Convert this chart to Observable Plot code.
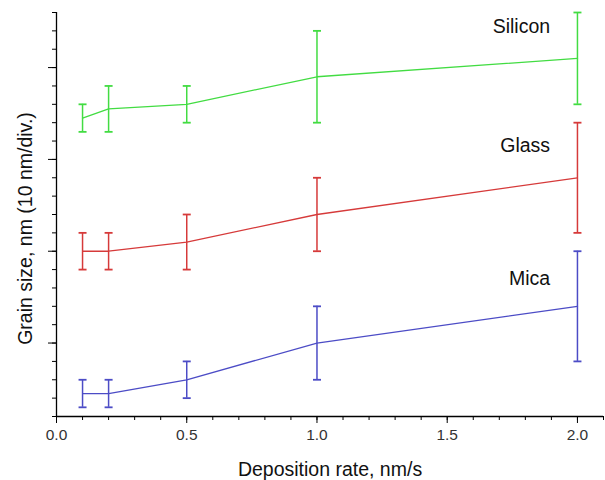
<!DOCTYPE html>
<html>
<head>
<meta charset="utf-8">
<script src="https://cdn.jsdelivr.net/npm/d3@7"></script>
<script src="https://cdn.jsdelivr.net/npm/@observablehq/plot@0.6"></script>
<style>
  html, body { margin: 0; padding: 0; background: #fff; }
  #chart { width: 605px; height: 480px; }
</style>
</head>
<body>
<div id="chart"></div>
<script>
// Data
const rates = [0.1, 0.2, 0.5, 1.0, 2.0];
const silicon = [34.5, 35.5, 36, 39, 41];
const siliconErr = [1.5, 2.5, 2, 5, 5];
const glass = [20, 20, 21, 24, 28];
const glassErr = [2, 2, 3, 4, 6];
const mica = [4.5, 4.5, 6, 10, 14];
const micaErr = [1.5, 1.5, 2, 4, 6];
const seriesNames = ["Silicon", "Glass", "Mica"];
const seriesColors = ["#42dc42", "#d63a3a", "#4c4cc6"];
const labelX = [1.895, 1.895, 1.895];
const labelY = [44.4, 31.5, 17.0];
const xMajorTicks = [0, 0.5, 1.0, 1.5, 2.0];
const xTickLabels = ["0.0", "0.5", "1.0", "1.5", "2.0"];
const xMinorTicks = [0, 0.1, 0.2, 0.3, 0.4, 0.5, 0.6, 0.7, 0.8, 0.9, 1.0, 1.1, 1.2, 1.3, 1.4, 1.5, 1.6, 1.7, 1.8, 1.9, 2.0, 2.1];
const yMajorTicks = [10, 20, 30, 40];
const yMinorTicks = [2, 4, 6, 8, 10, 12, 14, 16, 18, 20, 22, 24, 26, 28, 30, 32, 34, 36, 38, 40, 42, 44, 46];
const xLabel = "Deposition rate, nm/s";
const yLabel = "Grain size, nm (10 nm/div.)";

const seriesValues = [silicon, glass, mica];
const seriesErrors = [siliconErr, glassErr, micaErr];
const rows = [];
seriesNames.forEach((name, s) => {
  rates.forEach((r, i) => {
    rows.push({series: name, rate: r, value: seriesValues[s][i],
               lo: seriesValues[s][i] - seriesErrors[s][i],
               hi: seriesValues[s][i] + seriesErrors[s][i]});
  });
});
const labels = seriesNames.map((n, i) => ({series: n, x: labelX[i], y: labelY[i]}));

// horizontal-line symbol for error-bar caps
const capSymbol = {
  draw(context, size) {
    const r = Math.sqrt(size / Math.PI);
    context.moveTo(-r, 0);
    context.lineTo(r, 0);
  }
};

const chart = Plot.plot({
  width: 605,
  height: 480,
  marginLeft: 56,
  marginRight: 2,
  marginTop: 12,
  marginBottom: 64,
  style: {fontFamily: "'Liberation Sans', Arial, sans-serif", fontSize: "15.5px", background: "#fff"},
  x: {domain: [0, 2.1], axis: null},
  y: {domain: [2, 46], axis: null},
  color: {domain: seriesNames, range: seriesColors},
  marks: [
    Plot.ruleX([0], {stroke: "#000", strokeWidth: 1.3}),
    Plot.ruleY([2], {stroke: "#000", strokeWidth: 1.3}),
    Plot.axisX(xMinorTicks, {tickSize: 4, tickFormat: null, text: null, stroke: "#000"}),
    Plot.axisX(xMajorTicks, {tickSize: 7, tickPadding: 5, tickFormat: (d, i) => xTickLabels[i], stroke: "#000", fill: "#333", fontSize: 15.5, label: null}),
    Plot.axisY(yMinorTicks, {tickSize: 4, text: null, tickFormat: null, stroke: "#000", label: null}),
    Plot.axisY(yMajorTicks, {tickSize: 8, text: null, tickFormat: null, stroke: "#000", label: null}),
    Plot.line(rows, {x: "rate", y: "value", z: "series", stroke: "series", strokeWidth: 1.3}),
    Plot.ruleX(rows, {x: "rate", y1: "lo", y2: "hi", stroke: "series", strokeWidth: 1.5}),
    Plot.dot(rows, {x: "rate", y: "lo", symbol: capSymbol, r: 4, stroke: "series", strokeWidth: 1.8, fill: "none"}),
    Plot.dot(rows, {x: "rate", y: "hi", symbol: capSymbol, r: 4, stroke: "series", strokeWidth: 1.8, fill: "none"}),
    Plot.text(labels, {x: "x", y: "y", text: "series", textAnchor: "end", fontSize: 19.5, fill: "#111"}),
    Plot.text([xLabel], {frameAnchor: "bottom", textAnchor: "middle", lineAnchor: "middle", dy: 53, fontSize: 19.5, fill: "#111"}),
    Plot.text([yLabel], {frameAnchor: "left", textAnchor: "middle", lineAnchor: "middle", dx: -31, dy: 14, rotate: -90, fontSize: 19.5, fill: "#111"})
  ]
});
document.getElementById("chart").appendChild(chart);
</script>
</body>
</html>
